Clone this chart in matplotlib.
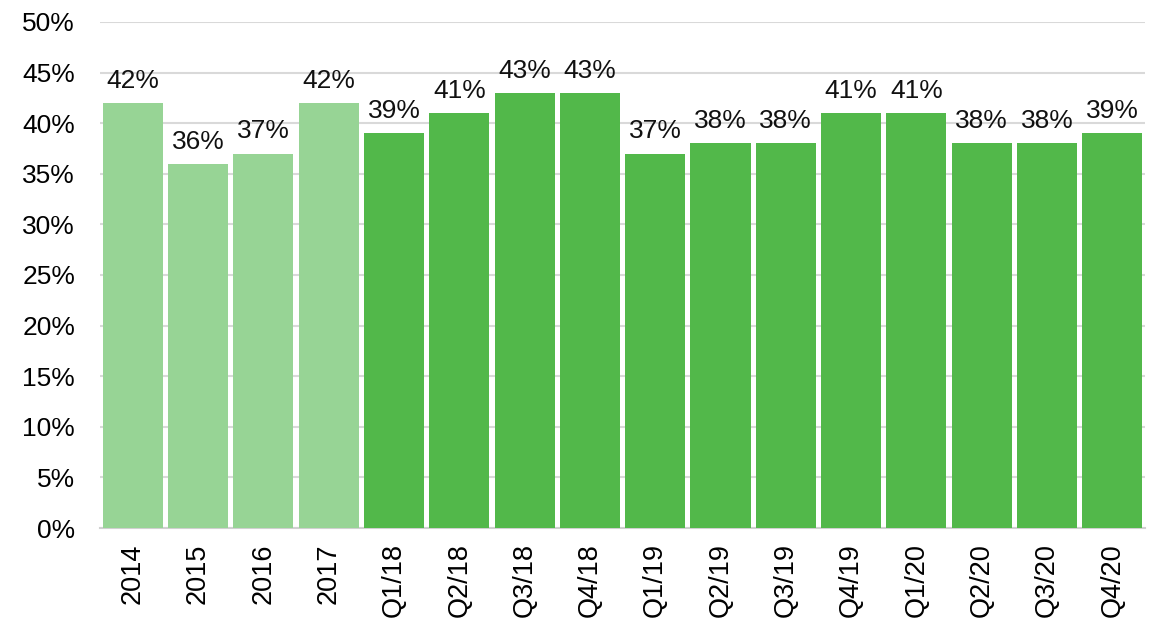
import matplotlib
matplotlib.use("Agg")
import matplotlib.pyplot as plt
import numpy as np

plt.rcParams['font.family'] = ['Liberation Sans', 'DejaVu Sans']

labels = ['2014', '2015', '2016', '2017', 'Q1/18', 'Q2/18', 'Q3/18', 'Q4/18',
          'Q1/19', 'Q2/19', 'Q3/19', 'Q4/19', 'Q1/20', 'Q2/20', 'Q3/20', 'Q4/20']
values = [42, 36, 37, 42, 39, 41, 43, 43, 37, 38, 38, 41, 41, 38, 38, 39]
n_years = 4

light = '#97D495'
dark = '#52B84A'
colors = [light] * n_years + [dark] * (len(values) - n_years)

fig = plt.figure(figsize=(11.66, 6.19), dpi=100)
ax = fig.add_axes([0.0858, 0.147, 0.8962, 0.8175])

x = np.arange(len(values))
ax.bar(x, values, width=0.92, color=colors, zorder=3)

for xi, v in zip(x, values):
    ax.text(xi, v + 1.0, f'{v}%', ha='center', va='bottom', fontsize=19, color='#111111')

ax.set_xlim(-0.5, len(values) - 0.5)
ax.set_ylim(0, 50)
ax.set_yticks(range(0, 51, 5))
ax.set_yticklabels([f'{t}%' for t in range(0, 51, 5)], fontsize=19)
ax.set_xticks(x)
ax.set_xticklabels(labels, rotation=90, fontsize=19.5)
ax.tick_params(axis='x', length=0, pad=11)
ax.tick_params(axis='y', length=0, pad=18)

ax.grid(axis='y', color='#D9D9D9', linewidth=1.5, zorder=0)
for s in ['top', 'right', 'left']:
    ax.spines[s].set_visible(False)
ax.spines['bottom'].set_color('#D0D0D0')
ax.spines['bottom'].set_linewidth(1.5)

fig.savefig('out.png', dpi=100)
